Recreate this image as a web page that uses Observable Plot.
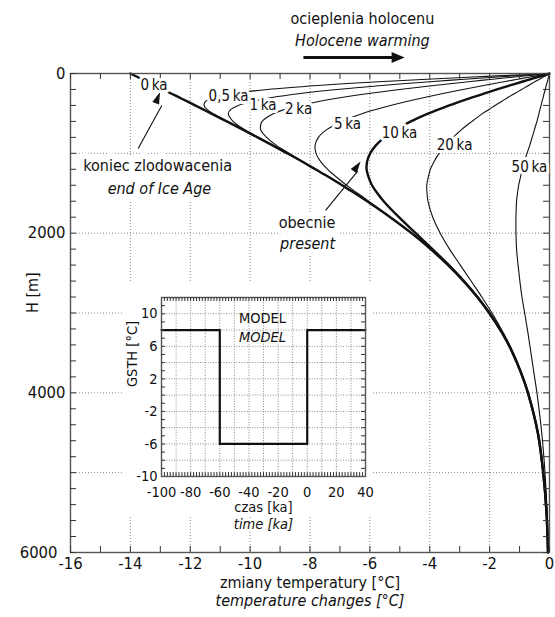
<!DOCTYPE html>
<html><head><meta charset="utf-8">
<script src="https://cdn.jsdelivr.net/npm/d3@7"></script>
<script src="https://cdn.jsdelivr.net/npm/@observablehq/plot@0.6"></script>
<style>
html,body{margin:0;padding:0;background:#fff;}
#wrap{position:relative;width:555px;height:617px;overflow:hidden;}
#main{position:absolute;left:0;top:0;}
#insetbg{position:absolute;left:124px;top:282px;width:248px;height:234px;background:#fff;}
#inset{position:absolute;left:124px;top:282px;}
svg{overflow:visible;}
</style></head><body>
<div id="wrap"><div id="main"></div><div id="insetbg"></div><div id="inset"></div></div>
<script>
// ---------- data ----------
const depth = [0, 25, 50, 75, 100, 150, 200, 250, 300, 350, 400, 450, 500, 600, 700, 800, 900, 1000, 1100, 1200, 1300, 1400, 1500, 1600, 1800, 2000, 2200, 2400, 2600, 2800, 3000, 3250, 3500, 3750, 4000, 4500, 5000, 5500, 6000];
const T_0ka  = [-14.00, -13.86, -13.73, -13.59, -13.46, -13.18, -12.91, -12.64, -12.37, -12.10, -11.84, -11.57, -11.31, -10.78, -10.26, -9.75, -9.25, -8.76, -8.28, -7.82, -7.36, -6.93, -6.50, -6.09, -5.32, -4.61, -3.97, -3.39, -2.87, -2.41, -2.01, -1.58, -1.23, -0.95, -0.72, -0.39, -0.21, -0.10, -0.05];
const T_05ka = [0, -1.46, -2.90, -4.27, -5.56, -7.75, -9.42, -10.54, -11.19, -11.49, -11.54, -11.44, -11.25, -10.77, -10.26, -9.75, -9.25, -8.76, -8.28, -7.82, -7.36, -6.93, -6.50, -6.09, -5.32, -4.61, -3.97, -3.39, -2.87, -2.41, -2.01, -1.58, -1.23, -0.95, -0.72, -0.39, -0.21, -0.10, -0.05];
const T_1ka  = [0, -1.00, -1.99, -2.95, -3.89, -5.60, -7.10, -8.32, -9.27, -9.95, -10.40, -10.64, -10.73, -10.57, -10.20, -9.73, -9.25, -8.76, -8.28, -7.82, -7.36, -6.93, -6.50, -6.09, -5.32, -4.61, -3.97, -3.39, -2.87, -2.41, -2.01, -1.58, -1.23, -0.95, -0.72, -0.39, -0.21, -0.10, -0.05];
const T_2ka  = [0, -0.66, -1.33, -1.99, -2.63, -3.86, -5.01, -6.04, -6.94, -7.71, -8.35, -8.84, -9.21, -9.60, -9.65, -9.45, -9.12, -8.70, -8.26, -7.82, -7.36, -6.93, -6.50, -6.09, -5.32, -4.61, -3.97, -3.39, -2.87, -2.41, -2.01, -1.58, -1.23, -0.95, -0.72, -0.39, -0.21, -0.10, -0.05];
const T_5ka  = [0, -0.37, -0.75, -1.11, -1.48, -2.20, -2.89, -3.56, -4.18, -4.77, -5.31, -5.80, -6.24, -6.94, -7.43, -7.72, -7.83, -7.80, -7.65, -7.41, -7.11, -6.78, -6.41, -6.04, -5.31, -4.61, -3.97, -3.39, -2.87, -2.41, -2.01, -1.58, -1.23, -0.95, -0.72, -0.39, -0.21, -0.10, -0.05];
const T_10ka = [0, -0.22, -0.45, -0.67, -0.89, -1.33, -1.76, -2.17, -2.58, -2.97, -3.35, -3.70, -4.04, -4.63, -5.12, -5.51, -5.80, -5.99, -6.09, -6.11, -6.04, -5.93, -5.75, -5.54, -5.03, -4.47, -3.91, -3.36, -2.86, -2.41, -2.01, -1.58, -1.23, -0.95, -0.72, -0.39, -0.21, -0.10, -0.05];
const T_20ka = [0, -0.11, -0.24, -0.35, -0.48, -0.70, -0.93, -1.16, -1.39, -1.60, -1.82, -2.02, -2.23, -2.59, -2.93, -3.22, -3.48, -3.69, -3.85, -3.98, -4.05, -4.10, -4.09, -4.06, -3.90, -3.65, -3.34, -2.98, -2.62, -2.26, -1.92, -1.54, -1.21, -0.95, -0.72, -0.39, -0.21, -0.10, -0.05];
const T_50ka = [0, -0.02, -0.04, -0.05, -0.07, -0.11, -0.14, -0.18, -0.21, -0.25, -0.28, -0.32, -0.35, -0.42, -0.50, -0.58, -0.66, -0.75, -0.84, -0.91, -0.97, -1.03, -1.07, -1.10, -1.12, -1.12, -1.10, -1.05, -0.99, -0.92, -0.83, -0.72, -0.62, -0.52, -0.42, -0.26, -0.15, -0.08, -0.04];

const seriesNames = ["0 ka", "0,5 ka", "1 ka", "2 ka", "5 ka", "10 ka", "20 ka", "50 ka"];
const seriesTemps = [T_0ka, T_05ka, T_1ka, T_2ka, T_5ka, T_10ka, T_20ka, T_50ka];
const thickSeries = ["0 ka", "10 ka"];

// curve label anchors (temperature, depth)
const labelText = ["0\u2009ka", "0,5\u2009ka", "1\u2009ka", "2\u2009ka", "5\u2009ka", "10\u2009ka", "20\u2009ka", "50\u2009ka"];
const labelT = [-13.21, -10.72, -9.57, -8.38, -6.75, -5.01, -3.17, -0.67];
const labelH = [150, 288, 400, 451, 638, 751, 901, 1176];

// annotations
const noteText = ["ocieplenia holocenu", "Holocene warming", "koniec zlodowacenia", "end of Ice Age", "obecnie", "present"];
const noteT = [-6.25, -6.25, -13.09, -13.03, -8.10, -8.08];
const noteH = [-688, -413, 1151, 1439, 1877, 2128];
const noteItalic = [false, true, false, true, false, true];
const noteHalo = [false, false, true, true, true, true];

// arrows: tail, shaft end, tip, head direction (deg clockwise from up)
const arrowT1 = [-8.22, -13.74, -7.48];
const arrowH1 = [-200, 939, 1715];
const arrowShaftT = [-5.10, -12.95, -6.40];
const arrowShaftH = [-200, 400, 1220];
const arrowT2 = [-4.84, -13.01, -6.31];
const arrowH2 = [-200, 233, 1101];
const arrowRot = [90, 21, 35.5];
const arrowW = [3, 1.1, 1.1];

// axes
const xTickLabels = [-16, -14, -12, -10, -8, -6, -4, -2, 0];
const yTickLabels = [0, 2000, 4000];
const yTickLabelBottom = [6000];
const gridT = [-14, -12, -10, -8, -6, -4, -2];
const gridH = [1000, 2000, 3000, 4000, 5000];

// inset: ground surface temperature history model
const gsthTime = [-100, -60, 0, 40];
const gsthTemp = [8, -6, 8, 8];
const insetXTicks = [-100, -80, -60, -40, -20, 0, 20, 40];
const insetYTicks = [-10, -6, -2, 2, 6, 10];
const insetGridX = [-90, -80, -70, -60, -50, -40, -30, -20, -10, 0, 10, 20, 30];
const insetGridY = [-8, -6, -4, -2, 0, 2, 4, 6, 8, 10];
const insetNoteText = ["MODEL", "MODEL"];
const insetNoteX = [-30.7, -30.7];
const insetNoteY = [9.4, 7.1];
const insetNoteItalic = [false, true];

// ---------- build ----------
const FONT = "'DejaVu Sans Condensed', 'DejaVu Sans', sans-serif";
const rows = seriesNames.flatMap((name, i) => depth.map((H, j) => ({name, H, T: seriesTemps[i][j]})));
const labels = labelText.map((text, i) => ({text, T: labelT[i], H: labelH[i]}));
const notes = noteText.map((text, i) => ({text, T: noteT[i], H: noteH[i], italic: noteItalic[i], halo: noteHalo[i]}));
const arrows = arrowT1.map((d, i) => ({T1: d, H1: arrowH1[i], Ts: arrowShaftT[i], Hs: arrowShaftH[i], T2: arrowT2[i], H2: arrowH2[i], rot: arrowRot[i], w: arrowW[i]}));
const minorT = d3.range(-16, 0.001, 1);
const minorH = d3.range(0, 6001, 200);

const frameW = 479, frameH = 479;
const ink = "#111";
const FS = 16;

const mainPlot = Plot.plot({
  width: 555, height: 617,
  marginLeft: 70, marginRight: 6, marginTop: 73, marginBottom: 65,
  style: {fontFamily: FONT, background: "white", color: ink},
  x: {domain: [-16, 0]},
  y: {domain: [0, 6000], reverse: true},
  marks: [
    Plot.ruleX(gridT, {stroke: "#8a8a8a", strokeWidth: 1, strokeDasharray: "1,2"}),
    Plot.ruleY(gridH, {stroke: "#8a8a8a", strokeWidth: 1, strokeDasharray: "1,2"}),
    Plot.line(rows.filter(d => !thickSeries.includes(d.name)), {x: "T", y: "H", z: "name", stroke: ink, strokeWidth: 1.1, curve: "catmull-rom"}),
    Plot.line(rows.filter(d => thickSeries.includes(d.name)), {x: "T", y: "H", z: "name", stroke: ink, strokeWidth: 2.4, curve: "catmull-rom"}),
    Plot.frame({stroke: "#555", strokeWidth: 1.4}),
    Plot.tickX(minorT, {x: d => d, insetTop: frameH - 6, stroke: "#333"}),
    Plot.tickX(minorT, {x: d => d, insetBottom: frameH - 6, stroke: "#333"}),
    Plot.tickY(minorH, {y: d => d, insetRight: frameW - 6, stroke: "#333"}),
    Plot.tickY(minorH, {y: d => d, insetLeft: frameW - 6, stroke: "#333"}),
    Plot.axisX({ticks: xTickLabels, tickSize: 0, tickPadding: 5, fontSize: 16.5, tickFormat: d => String(d), label: null}),
    Plot.axisY({ticks: yTickLabels, tickSize: 0, tickPadding: 5, fontSize: 16.5, tickFormat: d => String(d), label: null}),
    Plot.axisY({ticks: yTickLabelBottom, tickSize: 0, tickPadding: 13, fontSize: 16.5, tickFormat: d => String(d), label: null}),
    Plot.text(["H [m]"], {frameAnchor: "left", dx: -38, rotate: -90, fontSize: FS, fill: ink}),
    Plot.text(["zmiany temperatury [°C]"], {frameAnchor: "bottom", dy: 35, fontSize: FS, fill: ink}),
    Plot.text(["temperature changes [°C]"], {frameAnchor: "bottom", dy: 53, fontSize: FS, fontStyle: "italic", fill: ink}),
    Plot.text(notes.filter(d => d.halo && !d.italic), {x: "T", y: "H", text: "text", fontSize: FS, fill: ink, stroke: "white", strokeWidth: 12, strokeLinejoin: "round"}),
    Plot.text(notes.filter(d => d.halo && d.italic), {x: "T", y: "H", text: "text", fontSize: FS, fontStyle: "italic", fill: ink, stroke: "white", strokeWidth: 12, strokeLinejoin: "round"}),
    Plot.text(notes.filter(d => !d.halo && !d.italic), {x: "T", y: "H", text: "text", fontSize: FS, fill: ink}),
    Plot.text(notes.filter(d => !d.halo && d.italic), {x: "T", y: "H", text: "text", fontSize: FS, fontStyle: "italic", fill: ink}),
    Plot.link(arrows, {x1: "T1", y1: "H1", x2: "Ts", y2: "Hs", stroke: ink, strokeWidth: "w"}),
    Plot.vector(arrows.slice(0, 1), {x: "T2", y: "H2", rotate: "rot", length: 13, r: 5.5, shape: "spike", anchor: "end", fill: ink, stroke: "none"}),
    Plot.vector(arrows.slice(1), {x: "T2", y: "H2", rotate: "rot", length: 12, r: 3.6, shape: "spike", anchor: "end", fill: ink, stroke: "none"}),
    Plot.text(labels, {x: "T", y: "H", text: "text", fontSize: 15, fill: ink, stroke: "white", strokeWidth: 6, strokeLinejoin: "round"})
  ]
});
document.getElementById("main").appendChild(mainPlot);

const iFrameW = 204, iFrameH = 179;
const gsthRows = gsthTime.map((t, i) => ({t, g: gsthTemp[i]}));
const insetNotes = insetNoteText.map((text, i) => ({text, x: insetNoteX[i], y: insetNoteY[i], italic: insetNoteItalic[i]}));
const insetMinorX = d3.range(-98, 40, 2);
const insetMinorY = d3.range(-9, 12, 1);
const IFS = 14.5;

const insetPlot = Plot.plot({
  width: 248, height: 250,
  marginLeft: 37, marginRight: 7, marginTop: 15, marginBottom: 56,
  style: {fontFamily: FONT, background: "none", color: ink, overflow: "visible"},
  x: {domain: [-100, 40]},
  y: {domain: [-10, 12]},
  marks: [
    Plot.ruleX(insetGridX, {stroke: "#8a8a8a", strokeWidth: 1, strokeDasharray: "1,1.6"}),
    Plot.ruleY(insetGridY, {stroke: "#8a8a8a", strokeWidth: 1, strokeDasharray: "1,1.6"}),
    Plot.line(gsthRows, {x: "t", y: "g", curve: "step-after", stroke: ink, strokeWidth: 2.2}),
    Plot.frame({stroke: "#555", strokeWidth: 1.4}),
    Plot.tickX(insetMinorX, {x: d => d, insetTop: iFrameH - 4, stroke: "#333"}),
    Plot.tickX(insetMinorX, {x: d => d, insetBottom: iFrameH - 4, stroke: "#333"}),
    Plot.tickY(insetMinorY, {y: d => d, insetRight: iFrameW - 4, stroke: "#333"}),
    Plot.tickY(insetMinorY, {y: d => d, insetLeft: iFrameW - 4, stroke: "#333"}),
    Plot.axisX({ticks: insetXTicks, tickSize: 0, tickPadding: 10, fontSize: IFS, tickFormat: d => String(d), label: null}),
    Plot.axisY({ticks: insetYTicks, tickSize: 0, tickPadding: 4, fontSize: IFS, tickFormat: d => String(d), label: null}),
    Plot.text(["GSTH [°C]"], {frameAnchor: "left", dx: -29, rotate: -90, fontSize: IFS, fill: ink}),
    Plot.text(["czas [ka]"], {frameAnchor: "bottom", dy: 35, fontSize: IFS, fill: ink, stroke: "white", strokeWidth: 5}),
    Plot.text(["time [ka]"], {frameAnchor: "bottom", dy: 52, fontSize: IFS, fontStyle: "italic", fill: ink, stroke: "white", strokeWidth: 5}),
    Plot.text(insetNotes.filter(d => !d.italic), {x: "x", y: "y", text: "text", fontSize: IFS, fill: ink}),
    Plot.text(insetNotes.filter(d => d.italic), {x: "x", y: "y", text: "text", fontSize: IFS, fontStyle: "italic", fill: ink})
  ]
});
document.getElementById("inset").appendChild(insetPlot);

d3.selectAll("svg text").attr("paint-order", "stroke");
</script></body></html>
